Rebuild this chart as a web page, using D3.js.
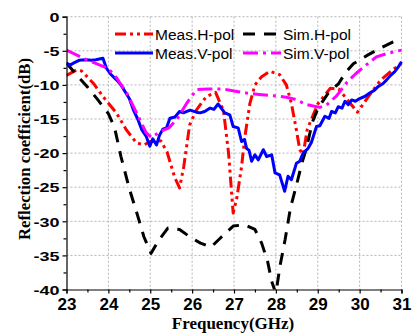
<!DOCTYPE html>
<html>
<head>
<meta charset="utf-8">
<script src="https://cdn.jsdelivr.net/npm/d3@7"></script>
<style>
  body { margin: 0; background: #fff; }
  svg { display: block; }
</style>
</head>
<body>
<div id="chart"></div>
<script>
// values: [GHz, dB]
var measH = [
    [23.0, -8.6], [23.24, -7.8], [23.36, -7.95], [23.64, -9.75], [23.87, -11.7],
    [24.19, -14.1], [24.43, -16.6], [24.67, -18.5], [24.85, -18.8], [25.0, -18.3],
    [25.25, -18.2], [25.4, -19.8], [25.58, -23.5], [25.7, -25.1], [25.8, -22.0],
    [25.94, -15.9], [26.1, -13.7], [26.34, -11.7], [26.56, -11.1], [26.75, -13.8],
    [26.87, -20.0], [26.98, -28.8], [27.07, -26.5], [27.18, -22.0], [27.26, -17.6],
    [27.38, -12.7], [27.5, -10.0], [27.66, -8.8], [27.86, -8.0], [28.09, -8.5],
    [28.25, -10.0], [28.37, -12.7], [28.49, -16.6], [28.57, -19.5], [28.65, -20.2],
    [28.75, -16.5], [29.0, -12.8], [29.3, -10.5], [29.5, -10.6], [29.75, -12.5],
    [29.95, -14.0], [30.2, -11.8], [30.5, -9.3], [30.75, -8.0], [31.0, -6.8]
];
var simH = [
    [23.0, -6.8], [23.25, -8.6], [23.5, -10.3], [23.75, -12.2], [24.0, -14.2],
    [24.15, -16.3], [24.3, -20.5], [24.5, -25.2], [24.7, -29.2], [24.85, -32.3],
    [25.02, -34.7], [25.2, -32.8], [25.42, -31.0], [25.7, -31.2], [25.95, -32.3],
    [26.2, -33.2], [26.45, -33.8], [26.7, -32.3], [26.98, -30.7], [27.25, -30.5],
    [27.5, -31.2], [27.66, -33.2], [27.8, -35.8], [27.9, -38.8], [28.0, -40.6],
    [28.1, -36.5], [28.22, -32.7], [28.35, -28.0], [28.5, -24.5], [28.62, -21.5],
    [28.73, -19.3], [28.87, -15.5], [29.0, -13.5], [29.25, -11.2], [29.5, -9.8],
    [29.65, -8.3], [29.85, -6.9], [30.2, -5.6], [30.5, -4.6], [30.8, -3.7], [31.0, -3.2]
];
var measV = [
    [23.0, -6.8], [23.08, -7.1], [23.2, -6.7], [23.3, -6.4], [23.45, -6.3],
    [23.6, -6.4], [23.7, -6.3], [23.87, -6.1], [23.95, -7.5], [24.05, -8.4],
    [24.2, -9.3], [24.3, -10.0], [24.4, -11.0], [24.5, -12.0], [24.6, -13.7],
    [24.7, -15.0], [24.8, -16.6], [24.9, -17.5], [24.99, -19.0], [25.06, -17.9],
    [25.15, -18.8], [25.22, -17.4], [25.3, -16.5], [25.39, -16.3], [25.47, -14.9],
    [25.59, -14.7], [25.7, -13.9], [25.79, -14.1], [25.95, -13.7], [26.1, -14.0],
    [26.19, -14.1], [26.3, -13.9], [26.43, -13.4], [26.52, -13.6], [26.62, -12.8],
    [26.78, -14.1], [26.9, -14.4], [26.98, -16.1], [27.1, -16.3], [27.18, -18.3],
    [27.25, -18.0], [27.3, -19.3], [27.36, -19.6], [27.42, -21.2], [27.5, -20.25],
    [27.58, -21.0], [27.7, -19.5], [27.78, -20.5], [27.9, -20.25], [27.98, -22.9],
    [28.09, -23.2], [28.21, -25.6], [28.29, -23.4], [28.37, -23.9], [28.49, -21.5],
    [28.57, -21.2], [28.65, -20.0], [28.77, -19.3], [28.85, -18.4], [28.97, -16.1],
    [29.05, -16.0], [29.17, -14.6], [29.27, -14.9], [29.33, -13.9], [29.42, -14.1],
    [29.49, -13.2], [29.58, -13.4], [29.65, -12.4], [29.73, -12.9], [29.81, -12.2],
    [29.9, -12.4], [30.0, -12.0], [30.12, -11.7], [30.24, -11.2], [30.35, -10.8],
    [30.44, -10.25], [30.56, -9.8], [30.64, -9.3], [30.74, -8.6], [30.84, -8.05],
    [30.92, -7.4], [31.0, -6.6]
];
var simV = [
    [23.0, -4.9], [23.4, -6.1], [23.8, -7.1], [24.0, -7.6], [24.2, -9.0],
    [24.45, -11.3], [24.65, -13.8], [24.9, -17.0], [25.03, -17.7], [25.25, -16.8],
    [25.45, -16.3], [25.65, -14.9], [25.87, -12.7], [26.1, -10.7], [26.4, -10.6],
    [26.75, -10.6], [27.0, -10.9], [27.3, -11.2], [27.6, -11.4], [27.95, -11.6],
    [28.25, -11.8], [28.45, -12.1], [28.75, -12.9], [29.05, -13.3], [29.2, -13.0],
    [29.45, -11.6], [29.7, -9.6], [29.9, -8.4], [30.15, -7.1], [30.4, -5.9],
    [30.65, -5.4], [31.0, -4.9]
];
var xTicks = [23, 24, 25, 26, 27, 28, 29, 30, 31];
var yTicks = [0, -5, -10, -15, -20, -25, -30, -35, -40];

var series = [
    {name: 'Meas.H-pol', values: measH, color: '#ff0000', dash: '11,4,3,4,3,4'},
    {name: 'Sim.H-pol', values: simH, color: '#000000', dash: '12,9'},
    {name: 'Meas.V-pol', values: measV, color: '#0000ff', dash: null},
    {name: 'Sim.V-pol', values: simV, color: '#ff00ff', dash: '15,5,3,5'}
];

var width = 413, height = 336,
    margin = {left: 66.5, right: 11.5, top: 16.7, bottom: 46.5},
    innerW = width - margin.left - margin.right,
    innerH = height - margin.top - margin.bottom;

var svg = d3.select('#chart').append('svg')
    .attr('width', width)
    .attr('height', height);

var x = d3.scaleLinear().domain([23, 31]).range([0, innerW]),
    y = d3.scaleLinear().domain([-40, 0]).range([innerH, 0]);

var g = svg.append('g').attr('transform', 'translate(' + margin.left + ',' + margin.top + ')');

svg.append('defs').append('clipPath').attr('id', 'plotClip')
    .append('rect').attr('x', 0).attr('y', 0).attr('width', innerW + 2).attr('height', innerH);

// dotted grid
g.append('g').selectAll('line.vg').data(xTicks.slice(1)).enter().append('line')
    .attr('x1', function (d) { return x(d); }).attr('x2', function (d) { return x(d); })
    .attr('y1', 0).attr('y2', innerH)
    .attr('stroke', '#b4b4b4').attr('stroke-width', 1).attr('stroke-dasharray', '2,2');
g.append('g').selectAll('line.hg').data(yTicks.slice(0, -1)).enter().append('line')
    .attr('x1', 0).attr('x2', innerW)
    .attr('y1', function (d) { return y(d); }).attr('y2', function (d) { return y(d); })
    .attr('stroke', '#b4b4b4').attr('stroke-width', 1).attr('stroke-dasharray', '2,2');

// curves
var line = d3.line()
    .x(function (d) { return x(d[0]); })
    .y(function (d) { return y(d[1]); });

var curves = g.append('g').attr('clip-path', 'url(#plotClip)');
series.forEach(function (s) {
    curves.append('path')
        .datum(s.values)
        .attr('d', line)
        .attr('fill', 'none')
        .attr('stroke', s.color)
        .attr('stroke-width', 3)
        .attr('stroke-linejoin', 'round')
        .attr('stroke-dasharray', s.dash);
});

// axes
var xMinor = d3.range(23.5, 31, 1), yMinor = d3.range(-37.5, 0, 5);

var xAxis = g.append('g').attr('transform', 'translate(0,' + innerH + ')')
    .call(d3.axisBottom(x).tickValues(xTicks).tickFormat(d3.format('d')).tickSize(4).tickPadding(4));
g.append('g').attr('transform', 'translate(0,' + innerH + ')')
    .call(d3.axisBottom(x).tickValues(xMinor).tickFormat('').tickSize(3))
    .select('.domain').remove();

var yAxis = g.append('g')
    .call(d3.axisLeft(y).tickValues(yTicks).tickFormat(function (d) { return d; }).tickSize(4).tickPadding(3));
g.append('g')
    .call(d3.axisLeft(y).tickValues(yMinor).tickFormat('').tickSize(3))
    .select('.domain').remove();

g.selectAll('.domain').attr('stroke', '#000').attr('stroke-width', 1.2);
g.selectAll('.tick line').attr('stroke', '#000').attr('stroke-width', 1.2);

xAxis.selectAll('text')
    .attr('font-family', 'Liberation Sans, Arial, sans-serif')
    .attr('font-weight', 'bold')
    .attr('font-size', '17px')
    .attr('fill', '#000');

yAxis.selectAll('text')
    .attr('font-family', 'Liberation Sans, Arial, sans-serif')
    .attr('font-weight', 'bold')
    .attr('font-size', '18px')
    .attr('fill', '#000')
    .attr('dy', null)
    .attr('dominant-baseline', 'central')
    .attr('transform', 'scale(1,0.76)')
    .attr('y', 0);

// axis titles
svg.append('text')
    .attr('x', 233).attr('y', 329)
    .attr('text-anchor', 'middle')
    .attr('font-family', 'Liberation Serif, Times New Roman, serif')
    .attr('font-weight', 'bold')
    .attr('font-size', '17px')
    .text('Frequency(GHz)');

svg.append('text')
    .attr('transform', 'translate(30,149) rotate(-90)')
    .attr('text-anchor', 'middle')
    .attr('font-family', 'Liberation Serif, Times New Roman, serif')
    .attr('font-weight', 'bold')
    .attr('font-size', '16.8px')
    .text('Reflection coefficient(dB)');

// legend, two columns
var legendPos = [[115, 34], [243, 34], [115, 53], [243, 53]];
series.forEach(function (s, i) {
    var p = legendPos[i];
    svg.append('line')
        .attr('x1', p[0]).attr('x2', p[0] + 38)
        .attr('y1', p[1]).attr('y2', p[1])
        .attr('stroke', s.color).attr('stroke-width', 3)
        .attr('stroke-dasharray', s.dash);
    svg.append('text')
        .attr('x', p[0] + 40).attr('y', p[1] + 5.5)
        .attr('font-family', 'Liberation Sans, Arial, sans-serif')
        .attr('font-size', '15.5px')
        .attr('fill', '#000')
        .text(s.name);
});
</script>
</body>
</html>
